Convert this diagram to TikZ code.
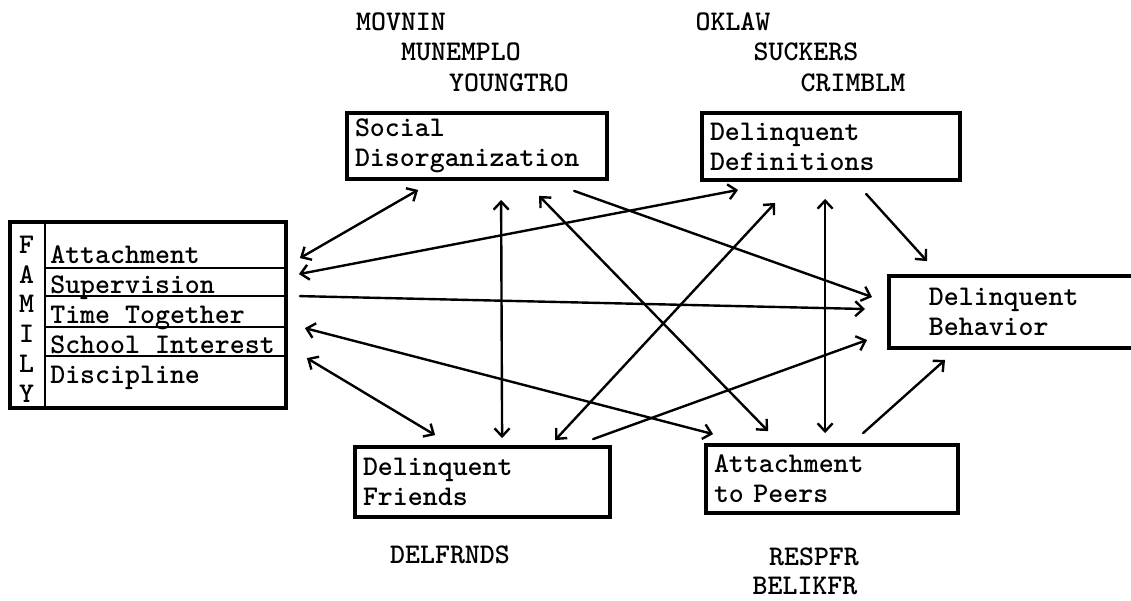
\documentclass[tikz,border=0pt]{standalone}
\usetikzlibrary{arrows.meta,calc}
\newcommand{\twfont}{\ttfamily\bfseries\fontsize{28.5}{30}\selectfont}
\begin{document}
\begin{tikzpicture}[x=1pt,y=-1pt,
  tt/.style={font=\twfont, inner sep=0pt},
  box/.style={draw, line width=3.8pt, rectangle, align=left, inner xsep=8pt, inner ysep=0pt, font=\twfont},
  innerline/.style={line width=2pt},
  oneway/.style={line width=2.4pt, line cap=round, -{Straight Barb[length=8pt,width=15pt]}},
  twoway/.style={line width=2.4pt, line cap=round, {Straight Barb[length=8pt,width=15pt]}-{Straight Barb[length=8pt,width=15pt]}}
]
\useasboundingbox (0,0) rectangle (1131,600);

% boxes
\node[box, minimum width=260, minimum height=66, text width=244] (SD) at (477,146) {Social\\Disorganization};
\node[box, minimum width=258, minimum height=67, text width=242] (DD) at (831,146.5) {Delinquent\\Definitions};
\node[box, minimum width=255, minimum height=70, text width=239] (DF) at (482.5,482) {Delinquent\\Friends};
\node[box, minimum width=252, minimum height=68, text width=236] (AP) at (832,479) {Attachment\\to Peers};
\node[box, draw=none, anchor=west, minimum width=242, minimum height=68, inner xsep=38pt, text width=166] (DB) at (889,312) {Delinquent\\Behavior};
\draw[line width=3.8pt] (DB.north east) -- (DB.north west) -- (DB.south west) -- (DB.south east);

% family box
\node[draw, line width=3.8pt, minimum width=276, minimum height=186, inner sep=0pt] (FAM) at (148,315) {};
\draw[innerline] ($(FAM.north west)+(37,0)$) -- ($(FAM.south west)+(37,0)$);
\foreach \d in {48,76,107,136}
  \draw[innerline] ($(FAM.north west)+(37,\d)$) -- ($(FAM.north east)+(0,\d)$);
\node[tt, anchor=base west] (fa1) at ($(FAM.north west)+(42,43)$) {Attachment};
\node[tt, anchor=base west] (fa2) at ($(FAM.north west)+(42,73)$) {Supervision};
\node[tt, anchor=base west] (fa3) at ($(FAM.north west)+(42,103)$) {Time Together};
\node[tt, anchor=base west] (fa4) at ($(FAM.north west)+(42,133)$) {School Interest};
\node[tt, anchor=base west] (fa5) at ($(FAM.north west)+(42,163)$) {Discipline};
\node[tt] (lF) at ($(FAM.north west)+(18.5,25)$) {F};
\node[tt] (lA) at ($(FAM.north west)+(18.5,55)$) {A};
\node[tt] (lM) at ($(FAM.north west)+(18.5,84)$) {M};
\node[tt] (lI) at ($(FAM.north west)+(18.5,114)$) {I};
\node[tt] (lL) at ($(FAM.north west)+(18.5,144)$) {L};
\node[tt] (lY) at ($(FAM.north west)+(18.5,174)$) {Y};

% indicator labels
\node[tt] (movnin) at (401,22) {MOVNIN};
\node[tt] (munemplo) at (461,52) {MUNEMPLO};
\node[tt] (youngtro) at (509,83) {YOUNGTRO};
\node[tt] (oklaw) at (733,22) {OKLAW};
\node[tt] (suckers) at (806,52) {SUCKERS};
\node[tt] (crimblm) at (853,83) {CRIMBLM};
\node[tt] (delfrnds) at (450,555) {DELFRNDS};
\node[tt] (respfr) at (814,557) {RESPFR};
\node[tt] (belikfr) at (805,586) {BELIKFR};

% connectors
\draw[twoway] ($(FAM.north east)+(12,38)$) -- ($(SD.south west)+(73,9)$);
\draw[twoway] ($(FAM.north east)+(11,54)$) -- ($(DD.south west)+(38,8)$);
\draw[oneway] ($(FAM.north east)+(12,76)$) -- ($(DB.west)+(-24,-3)$);
\draw[twoway] ($(FAM.north east)+(17,108)$) -- ($(AP.north west)+(9,-9)$);
\draw[twoway] ($(FAM.north east)+(19,138)$) -- ($(DF.north west)+(82,-10)$);
\draw[twoway] ($(SD.south west)+(156,19)$) -- ($(DF.north west)+(149,-7)$);
\draw[twoway] ($(SD.south west)+(194,15)$) -- ($(AP.north west)+(64,-12)$);
\draw[oneway] ($(SD.south west)+(229,10)$) -- ($(DB.west)+(-17,-15)$);
\draw[twoway] ($(DD.south west)+(75,21)$) -- ($(DF.north west)+(202,-5)$);
\draw[twoway] ($(DD.south west)+(125,17)$) -- ($(AP.north west)+(121,-10)$);
\draw[oneway] ($(DD.south west)+(166,12)$) -- ($(DB.north west)+(38,-15)$);
\draw[oneway] ($(DF.north west)+(240,-6)$) -- ($(DB.west)+(-22,28)$);
\draw[oneway] ($(AP.north west)+(159,-10)$) -- ($(DB.south west)+(56,12)$);
\end{tikzpicture}
\end{document}
